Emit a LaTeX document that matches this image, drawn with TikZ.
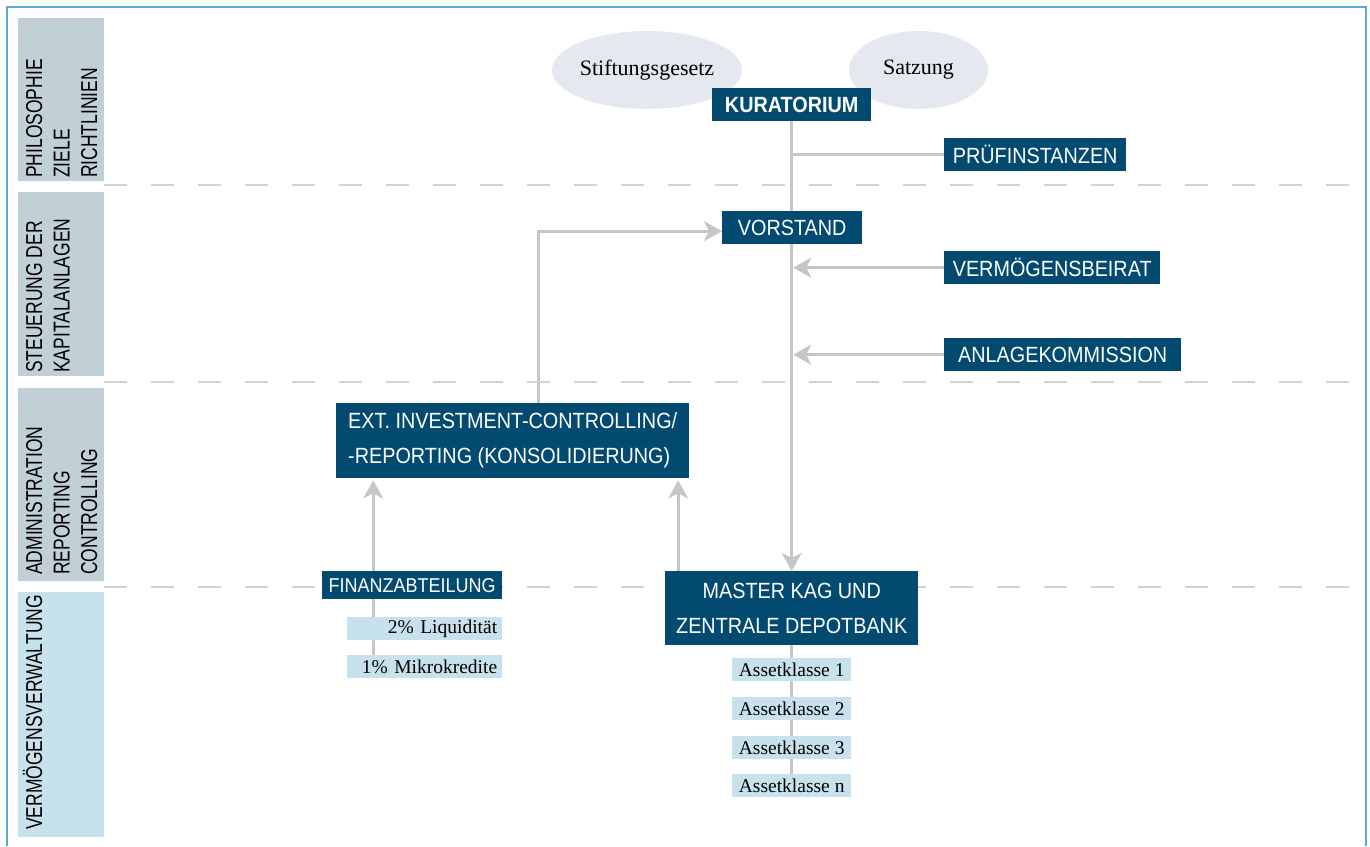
\documentclass[tikz,border=0pt]{standalone}
\usepackage{fontspec}
\setmainfont{Liberation Serif}
\newfontfamily\boxfont{Liberation Sans}[FakeStretch=0.9]
\newfontfamily\sidefont{Liberation Sans}[FakeStretch=0.76]
\usetikzlibrary{shapes.geometric,arrows.meta,backgrounds}
\definecolor{kdark}{HTML}{034A70}
\definecolor{kside}{HTML}{C1CFD6}
\definecolor{klight}{HTML}{C8E2ED}
\definecolor{koval}{HTML}{E6E8F0}
\definecolor{kline}{HTML}{C6C6C6}
\definecolor{kdash}{HTML}{D2D2D2}
\definecolor{kframe}{HTML}{5AA7D8}
\begin{document}
\begin{tikzpicture}[x=1pt,y=-1pt]
        \tikzset{darkbox/.style={anchor=north west,fill=kdark,text=white,inner sep=0pt,align=center,
                font=\boxfont\fontsize{22}{35}\selectfont},
            lightbox/.style={anchor=north west,fill=klight,inner sep=0pt,minimum height=22.5pt,
                font=\fontsize{19.5}{20}\selectfont},
            oval/.style={ellipse,fill=koval,inner sep=0pt,minimum height=78pt,font=\fontsize{22}{24}\selectfont},
            sidelabel/.style={rotate=90,anchor=base west,inner sep=0pt,font=\sidefont\fontsize{23}{27}\selectfont},
            conn/.style={draw=kline,line width=3pt},
            arr/.style={conn,-{Stealth[length=18pt,width=20pt,inset=5pt]}},
            sep/.style={draw=kdash,line width=2pt,dash pattern=on 23pt off 24pt}}
        \useasboundingbox (0,0) rectangle (1370,846);
        % frame, lanes and separators
        \draw[kframe,line width=2pt] (6.5,846) -- (6.5,6.5) -- (1366,6.5) -- (1366,846);
        \fill[kside] (18,18) rectangle (104,181);
        \fill[kside] (18,192) rectangle (104,376);
        \fill[kside] (18,388) rectangle (104,581);
        \fill[klight] (18,592) rectangle (104,837);
        \foreach \y in {185,382,587} \draw[sep] (104,\y) -- (1350,\y);
        \foreach \t [count=\i] in {PHILOSOPHIE,ZIELE,RICHTLINIEN}
            \node[sidelabel] (ziel\i) at (14.5+27.5*\i,178) {\t};
        \foreach \t [count=\i] in {STEUERUNG DER,KAPITALANLAGEN}
            \node[sidelabel] (steuer\i) at (14.5+27.5*\i,373) {\t};
        \foreach \t [count=\i] in {ADMINISTRATION,REPORTING,CONTROLLING}
            \node[sidelabel] (admin\i) at (14.5+27.5*\i,575) {\t};
        \node[sidelabel] (verw1) at (42,830) {VERMÖGENSVERWALTUNG};
        % nodes
        \node[oval,minimum width=188pt] (gesetz) at (647,70) {Stiftungsgesetz};
        \node[oval,minimum width=139pt] (satzung) at (918.5,70) {Satzung};
        \node[darkbox,minimum width=159pt,minimum height=33pt,
            font=\boxfont\bfseries\fontsize{22}{35}\selectfont] (kur) at (712,88) {KURATORIUM};
        \node[darkbox,minimum width=182pt,minimum height=33pt] (pruef) at (944,138) {PRÜFINSTANZEN};
        \node[darkbox,minimum width=140pt,minimum height=33pt] (vor) at (722,211) {VORSTAND};
        \node[darkbox,minimum width=216pt,minimum height=33pt] (beirat) at (944,251) {VERMÖGENSBEIRAT};
        \node[darkbox,minimum width=237pt,minimum height=33pt] (kommission) at (944,338) {ANLAGEKOMMISSION};
        \node[darkbox,minimum width=353pt,minimum height=75pt,align=left] (ext) at (336,403)
            {EXT. INVESTMENT-CONTROLLING/\\-REPORTING (KONSOLIDIERUNG)};
        \node[darkbox,minimum width=180pt,minimum height=28pt,
            font=\boxfont\fontsize{20}{24}\selectfont] (finanz) at (322,571) {FINANZABTEILUNG};
        \node[darkbox,minimum width=253pt,minimum height=74pt] (master) at (665,571)
            {MASTER KAG UND\\ZENTRALE DEPOTBANK};
        \node[lightbox,text width=145pt,inner xsep=5pt,align=right] (liq) at (347,617) {2\% Liquidität};
        \node[lightbox,text width=145pt,inner xsep=5pt,align=right] (mikro) at (347,655) {1\% Mikrokredite};
        \foreach \k/\y in {1/658,2/697,3/736,n/774}
            \node[lightbox,minimum width=119pt] (a\k) at (732,\y) {Assetklasse \k};
        % connectors
        \begin{scope}[on background layer]
            \draw[arr] (kur.south) -- (master.north);
            \draw[conn] (kur.south |- pruef.west) -- (pruef.west);
            \draw[arr,shorten >=1.5pt] (beirat.west) -- (beirat.west -| kur.south);
            \draw[arr,shorten >=1.5pt] (kommission.west) -- (kommission.west -| kur.south);
            \coordinate (ext up) at ([xshift=25.5pt]ext.north);
            \draw[arr] (ext up) |- ([yshift=-3.5pt]vor.west);
            \coordinate (fin up) at ([xshift=-39pt]finanz.north);
            \draw[arr,shorten >=2pt] (fin up |- mikro.north) -- (fin up |- ext.south);
            \coordinate (mas up) at ([xshift=-113.5pt]master.north);
            \draw[arr,shorten >=2pt] (mas up) -- (mas up |- ext.south);
            \draw[conn] (master.south) -- (an.north);
        \end{scope}
\end{tikzpicture}
\end{document}
